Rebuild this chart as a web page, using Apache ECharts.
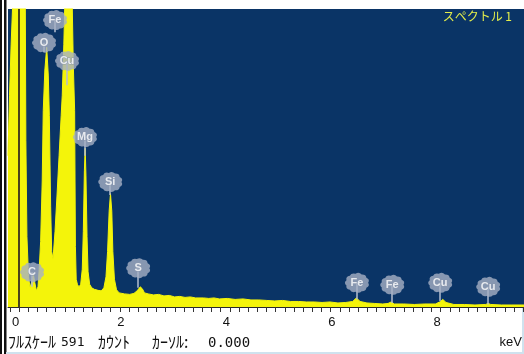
<!DOCTYPE html>
<html>
<head>
<meta charset="utf-8">
<script src="https://cdn.jsdelivr.net/npm/echarts@6/dist/echarts.min.js"></script>
<style>
  html, body { margin: 0; padding: 0; background: #fff; }
  #eds { width: 524px; height: 354px; }
</style>
</head>
<body>
<div id="eds"></div>
<script>
// spectrum: energy (keV) / counts
const energy = [
  -0.21, -0.18, -0.15, -0.12, -0.1, -0.06, -0.02, 0.02, 0.06, 0.1,
  0.115, 0.13, 0.15, 0.18, 0.21, 0.24, 0.27, 0.3, 0.33, 0.36,
  0.38, 0.41, 0.44, 0.46, 0.49, 0.525, 0.555, 0.575, 0.6, 0.62,
  0.645, 0.683, 0.72, 0.76, 0.8, 0.82, 0.85, 0.873, 0.9, 0.99,
  1.006, 1.03, 1.055, 1.07, 1.085, 1.11, 1.14, 1.17, 1.2, 1.22,
  1.24, 1.255, 1.27, 1.29, 1.31, 1.34, 1.38, 1.43, 1.5, 1.56,
  1.61, 1.65, 1.68, 1.71, 1.735, 1.76, 1.78, 1.81, 1.85, 1.9,
  2.0, 2.1, 2.18, 2.24, 2.3, 2.34, 2.38, 2.45, 2.55, 2.65,
  2.75, 2.85, 2.95, 3.05, 3.15, 3.25, 3.35, 3.5, 3.6, 3.7,
  3.8, 3.95, 4.1, 4.25, 4.4, 4.55, 4.7, 4.85, 5.0, 5.15,
  5.3, 5.45, 5.6, 5.75, 5.9, 6.05, 6.2, 6.33, 6.4, 6.47,
  6.6, 6.75, 6.9, 7.0, 7.06, 7.12, 7.3, 7.5, 7.7, 7.9,
  7.98, 8.04, 8.1, 8.25, 8.45, 8.65, 8.85, 8.9, 8.95, 9.15,
  9.35, 9.58
];
const counts = [
  300, 420, 520, 600, 760, 900, 900, 900, 900, 900,
  700, 330, 140, 60, 38, 50, 66, 48, 32, 40,
  70, 130, 250, 390, 470, 515, 460, 380, 200, 110,
  95, 150, 220, 300, 380, 420, 520, 620, 900, 900,
  620, 480, 390, 120, 55, 44, 40, 45, 75, 150,
  270, 315, 260, 140, 70, 45, 38, 35, 33, 32,
  38, 60, 110, 190, 225, 190, 110, 55, 34, 28,
  26, 25, 27, 32, 40, 36, 28, 26, 24, 25,
  22, 23, 20, 21, 19, 20, 18, 18, 17, 18,
  16, 17, 15, 16, 14, 14, 13, 12, 13, 11,
  11, 10, 10, 9, 10, 8, 9, 11, 18, 11,
  8, 7, 6, 7, 10, 6, 6, 5, 6, 6,
  10, 15, 9, 5, 5, 4, 5, 7, 5, 4,
  4, 4
];

// element markers: name, badge position, where the stem ends
const peakNames   = ['Fe', 'O', 'Cu', 'Mg', 'Si', 'C', 'S', 'Fe', 'Fe', 'Cu', 'Cu'];
const badgeKeV    = [0.683, 0.474, 0.91, 1.25, 1.73, 0.247, 2.26, 6.41, 7.08, 7.99, 8.9];
const badgeCounts = [569, 524, 488, 337, 248, 69, 77, 48, 44, 48, 40];
const stemCounts  = [545, 505, 440, 300, 222, 40, 38, 15, 8, 12, 5];

const xLabels = [0, 2, 4, 6, 8];
const fullScale = 591;
const cursorKeV = 0;

const chart = echarts.init(document.getElementById('eds'));

// little scalloped badge like the ones in the software
function badgePath(n) {
  let d = '';
  for (let i = 0; i < n; i++) {
    const a0 = Math.PI * 2 * i / n, a1 = Math.PI * 2 * (i + 1) / n, am = (a0 + a1) / 2;
    const p0 = [Math.cos(a0) * 10, Math.sin(a0) * 10];
    const c = [Math.cos(am) * 12.4, Math.sin(am) * 12.4];
    const p1 = [Math.cos(a1) * 10, Math.sin(a1) * 10];
    if (i === 0) d += 'M' + p0[0].toFixed(2) + ' ' + p0[1].toFixed(2);
    d += 'Q' + c[0].toFixed(2) + ' ' + c[1].toFixed(2) + ' ' + p1[0].toFixed(2) + ' ' + p1[1].toFixed(2);
  }
  return 'path://' + d + 'Z';
}

let ticks = [];
for (let i = -1; i <= 55; i++) ticks.push(i * 8 / 46);

const yellow = '#f4f40a';
const kana = '"Noto Sans CJK JP"';
const mono = '"DejaVu Sans Mono"';

let option = {
  animation: false,
  backgroundColor: '#fff',
  title: {
    text: 'スペクトル 1',
    right: 12,
    top: 10,
    padding: 0,
    textStyle: { color: '#e4ee4a', fontSize: 12, fontWeight: 'normal', fontFamily: 'Noto Sans CJK JP' }
  },
  grid: {
    left: 8, right: 0, top: 9, bottom: 47,
    show: true, backgroundColor: '#0a3466', borderWidth: 0
  },
  xAxis: {
    type: 'value',
    min: -0.209,
    max: 9.58,
    splitLine: { show: false },
    axisLine: { show: true, onZero: false, lineStyle: { color: '#2a2a2a', width: 1 } },
    axisTick: { show: true, customValues: ticks, length: 5, lineStyle: { color: '#333' } },
    axisLabel: {
      customValues: xLabels,
      margin: 9,
      color: '#111',
      fontSize: 13,
      fontFamily: 'Liberation Sans',
      formatter: v => '{t|' + v + '}',
      rich: { t: { padding: [0, 7, 0, 0], fontSize: 13, fontFamily: 'Liberation Sans', color: '#111' } }
    }
  },
  yAxis: {
    type: 'value',
    min: 0,
    max: fullScale,
    show: false
  },
  series: [
    {
      name: 'spectrum',
      type: 'line',
      data: energy.map((e, i) => [e, counts[i]]),
      showSymbol: false,
      clip: true,
      lineStyle: { color: yellow, width: 1 },
      areaStyle: { color: yellow, opacity: 1 },
      z: 2,
      markLine: {
        silent: true,
        symbol: 'none',
        label: { show: false },
        lineStyle: { color: 'rgba(30,24,30,0.8)', width: 2, type: 'solid' },
        data: [{ xAxis: cursorKeV }]
      }
    },
    {
      name: 'stems',
      type: 'lines',
      coordinateSystem: 'cartesian2d',
      silent: true,
      z: 3,
      lineStyle: { color: '#b4bed0', width: 1.5, opacity: 1 },
      data: peakNames.map((n, i) => ({ coords: [[badgeKeV[i], badgeCounts[i]], [badgeKeV[i], stemCounts[i]]] }))
    },
    {
      name: 'badges',
      type: 'scatter',
      z: 4,
      symbol: badgePath(11),
      symbolSize: [24, 20],
      itemStyle: { color: '#a6b0c4' },
      label: {
        show: true,
        position: 'inside',
        formatter: '{b}',
        color: '#fff',
        fontSize: 11,
        fontWeight: 'bold',
        fontFamily: 'Liberation Sans',
        textBorderColor: '#8a96ac',
        textBorderWidth: 1
      },
      data: peakNames.map((n, i) => ({ name: n, value: [badgeKeV[i], badgeCounts[i]] }))
    }
  ],
  graphic: [
    { type: 'rect', shape: { x: 0, y: 0, width: 2, height: 354 }, style: { fill: '#111' } },
    { type: 'rect', shape: { x: 4, y: 0, width: 2.5, height: 354 }, style: { fill: '#111' } },
    { type: 'rect', shape: { x: 522, y: 308, width: 2, height: 46 }, style: { fill: '#cfe2ee' } },
    { type: 'rect', shape: { x: 6, y: 352, width: 518, height: 2 }, style: { fill: '#cfe2ee' } },
    { type: 'text', left: 8, top: 334, style: { text: 'ﾌﾙｽｹｰﾙ', font: '16px ' + kana, fill: '#111' } },
    { type: 'text', left: 61, top: 336, style: { text: String(fullScale), font: '13px ' + mono, fill: '#111' } },
    { type: 'text', left: 98, top: 334, style: { text: 'ｶｳﾝﾄ', font: '16px ' + kana, fill: '#111' } },
    { type: 'text', left: 152, top: 334, style: { text: 'ｶｰｿﾙ:', font: '16px ' + kana, fill: '#111' } },
    { type: 'text', left: 208, top: 336, style: { text: cursorKeV.toFixed(3), font: '14px ' + mono, fill: '#111' } },
    { type: 'text', right: 2, top: 336, style: { text: 'keV', font: '13px "Liberation Sans"', fill: '#111' } }
  ]
};

chart.setOption(option);
</script>
</body>
</html>
